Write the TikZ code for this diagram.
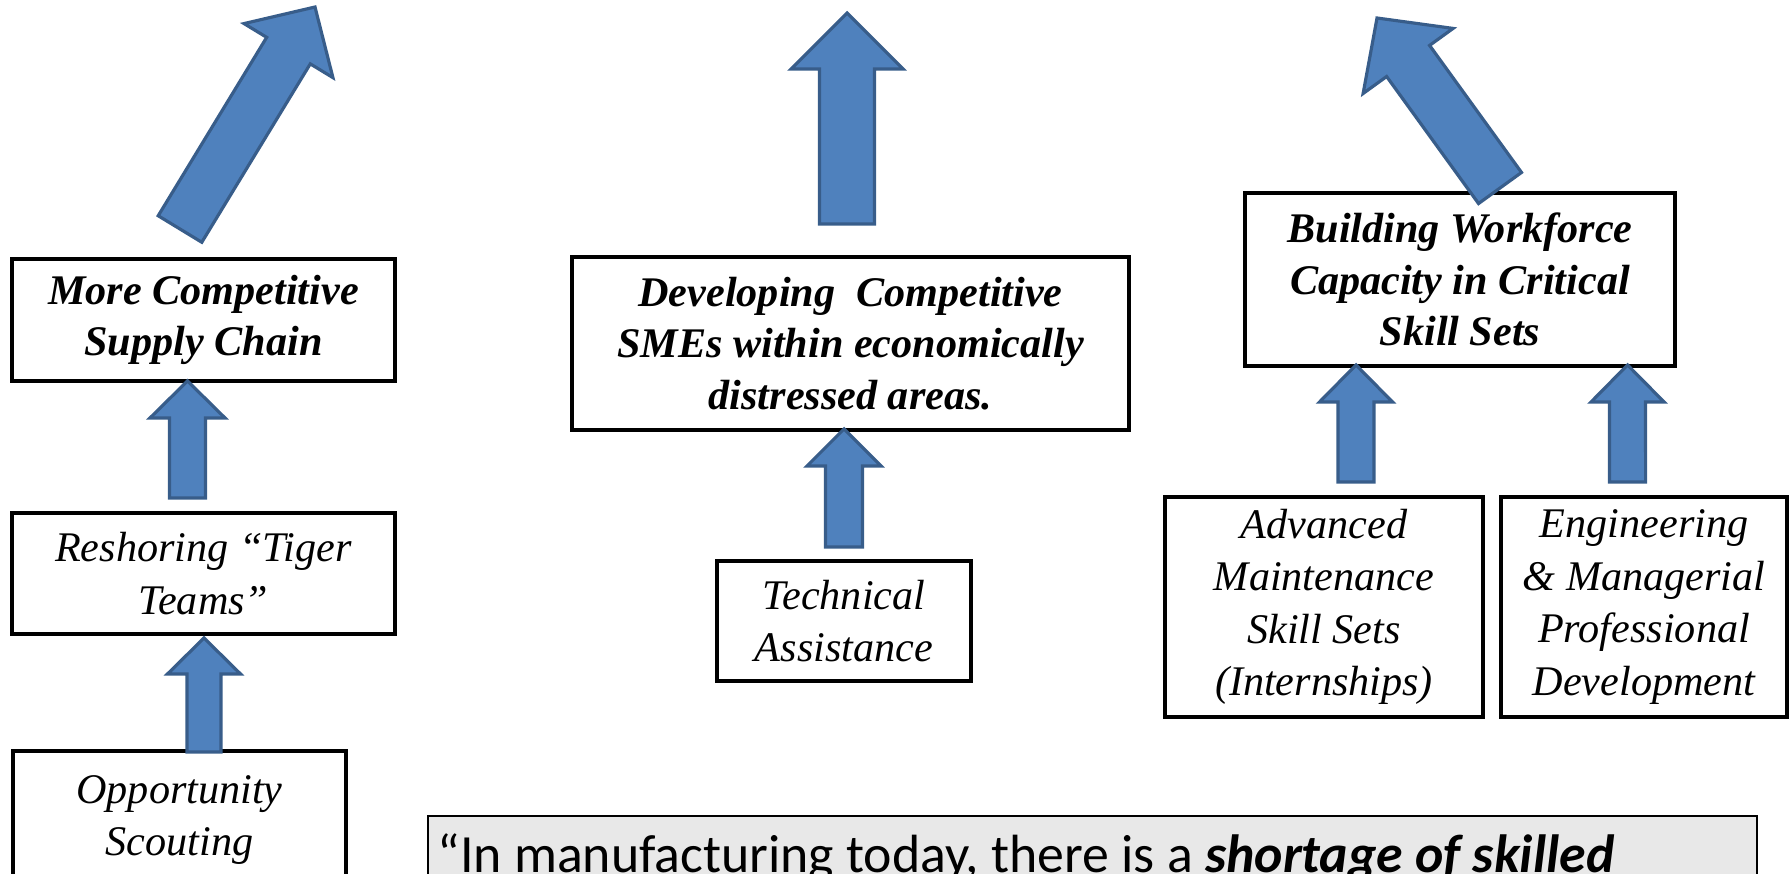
\documentclass[tikz,border=0pt]{standalone}
\usepackage{fontspec}
\setmainfont{Liberation Serif}
\newfontfamily\quotefont{Carlito}
\usetikzlibrary{calc,positioning}

\definecolor{arrowblue}{HTML}{4F81BD}
\definecolor{arrowedge}{HTML}{385D8A}
\definecolor{quotegray}{HTML}{E8E8E8}

% block arrow: tail, tip, half shaft width, half head width, head length
\newcommand{\bigarrow}[5]{%
  \coordinate (arr_base) at ($(#2)!#5!(#1)$);
  \draw[fatarrow] ($(#1)!#3!90:(#2)$) -- ($(arr_base)!#3!90:(#2)$)
    -- ($(arr_base)!#4!90:(#2)$) -- (#2) -- ($(arr_base)!#4!-90:(#2)$)
    -- ($(arr_base)!#3!-90:(#2)$) -- ($(#1)!#3!-90:(#2)$) -- cycle;
}

\begin{document}
\begin{tikzpicture}[x=0.01cm, y=-0.01cm,
    goal/.style={rectangle, draw, line width=1.1pt, align=center, inner sep=0pt,
      font=\fontsize{12}{14.6}\selectfont\bfseries\itshape},
    activity/.style={goal, font=\fontsize{12}{14.9}\selectfont\itshape},
    quote_box/.style={rectangle, draw, line width=0.6pt, fill=quotegray},
    fatarrow/.style={fill=arrowblue, draw=arrowedge, line width=0.9pt}]
        \useasboundingbox (0,0) rectangle (1792,874);

        % Left column
        \node[goal, minimum width=3.83cm, minimum height=1.22cm] (supply_chain) at (203.5,320) {More Competitive\\Supply Chain};
        \node[activity, minimum width=3.83cm, minimum height=1.21cm] (tiger_teams) at (203.5,573.5) {Reshoring “Tiger\\Teams”};
        \node[activity, minimum width=3.33cm, minimum height=1.38cm] (scouting) at (179.5,820) {Opportunity\\Scouting};

        % Middle column
        \node[goal, minimum width=5.57cm, minimum height=1.73cm] (smes) at (850.5,343.5) {Developing~ Competitive\\SMEs within economically\\distressed areas.};
        \node[activity, minimum width=2.54cm, minimum height=1.2cm] (tech_assist) [below=1.27cm of smes, xshift=-0.065cm] {Technical\\Assistance};

        % Right column
        \node[goal, minimum width=4.3cm, minimum height=1.73cm] (workforce) at (1460,279.5) {Building Workforce\\Capacity in Critical\\Skill Sets};
        \node[activity, minimum width=3.18cm, minimum height=2.2cm] (maintenance) at (1324,607) {Advanced\\Maintenance\\Skill Sets\\(Internships)};
        \node[activity, minimum width=2.86cm, minimum height=2.2cm] (engineering) [right=0.14cm of maintenance] {Engineering\\\& Managerial\\Professional\\Development};

        % Quote (cut by the page edge)
        \node[quote_box, anchor=north west, minimum width=13.28cm, minimum height=2cm] (quote) at (427,815) {};
        \node[anchor=base west, inner sep=0pt, font=\quotefont\fontsize{15.3}{18}\selectfont] (quote_text) at (437,872)
            {“In manufacturing today, there is a \textbf{\textit{shortage of skilled}}};

        % Arrow end points
        \coordinate (chain_out) at ($(supply_chain.north)+(-23.5,-28)$);
        \coordinate (chain_goal) at ($(chain_out)+(135,-222)$);
        \coordinate (tiger_out) at ($(tiger_teams.north)+(-16,-13)$);
        \coordinate (chain_in) at ($(supply_chain.south)+(-16,-2)$);
        \coordinate (scout_out) at ($(scouting.north)+(24.5,3)$);
        \coordinate (tiger_in) at ($(tiger_teams.south)+(0.5,2)$);
        \coordinate (smes_out) at ($(smes.north)+(-3.5,-31)$);
        \coordinate (smes_goal) at ($(smes_out)+(0,-211)$);
        \coordinate (tech_out) at ($(tech_assist.north)+(0,-12)$);
        \coordinate (smes_in) at ($(smes.south)+(-6.5,-3)$);
        \coordinate (work_out) at ($(workforce.north)+(40,-3)$);
        \coordinate (work_goal) at ($(work_out)+(-123,-170)$);
        \coordinate (maint_out) at ($(maintenance.north)+(32,-13)$);
        \coordinate (work_in_left) at ($(workforce.south)+(-104,-3)$);
        \coordinate (eng_out) at ($(engineering.north)+(-16.5,-13)$);
        \coordinate (work_in_right) at ($(workforce.south)+(167.5,-3)$);

        % Block arrows
        \bigarrow{chain_out}{chain_goal}{0.255cm}{0.52cm}{0.51cm}
        \bigarrow{tiger_out}{chain_in}{0.18cm}{0.375cm}{0.37cm}
        \bigarrow{scout_out}{tiger_in}{0.17cm}{0.365cm}{0.36cm}
        \bigarrow{smes_out}{smes_goal}{0.275cm}{0.56cm}{0.56cm}
        \bigarrow{tech_out}{smes_in}{0.185cm}{0.37cm}{0.37cm}
        \bigarrow{work_out}{work_goal}{0.265cm}{0.555cm}{0.53cm}
        \bigarrow{maint_out}{work_in_left}{0.18cm}{0.365cm}{0.37cm}
        \bigarrow{eng_out}{work_in_right}{0.18cm}{0.365cm}{0.37cm}
    \end{tikzpicture}
\end{document}
